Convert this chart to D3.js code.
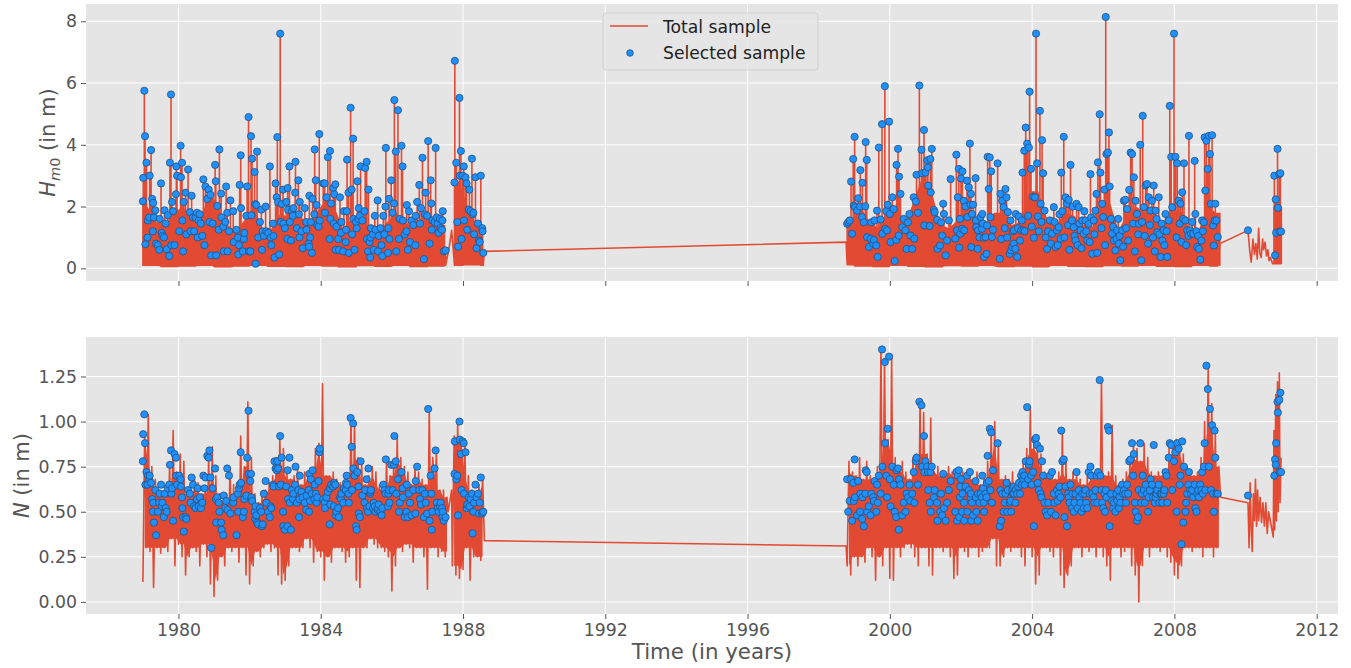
<!DOCTYPE html>
<html>
<head>
<meta charset="utf-8">
<script src="https://cdn.jsdelivr.net/npm/d3@7"></script>
<style>
  body { margin: 0; background: #fff; }
  text { font-family: "DejaVu Sans", sans-serif; }
</style>
</head>
<body>
<svg width="1351" height="668"></svg>
<script>
// selected sample (storm peaks) : time in decimal years, Hm0 and N at that time
var selTime = [
  1979.00,1979.01,1979.04,1979.06,1979.07,1979.10,1979.13,1979.14,1979.18,1979.19,1979.23,1979.26,1979.28,1979.29,1979.31,1979.35,1979.37,1979.42,1979.46,1979.47,1979.51,1979.53,1979.55,1979.59,1979.61,1979.64,1979.67,1979.70,1979.74,1979.76,1979.79,1979.80,1979.82,1979.85,1979.89,1979.93,1979.94,1979.96,
  1980.02,1980.06,1980.07,1980.10,1980.11,1980.13,1980.15,1980.20,1980.22,1980.27,1980.32,1980.34,1980.37,1980.41,1980.44,1980.48,1980.52,1980.54,1980.57,1980.60,1980.63,1980.67,1980.70,1980.73,1980.76,1980.81,1980.85,1980.87,1980.90,1980.92,1980.96,1981.03,1981.05,1981.06,
  1981.09,1981.13,1981.15,1981.20,1981.21,1981.26,1981.27,1981.32,1981.34,1981.37,1981.38,1981.42,1981.46,1981.54,1981.55,1981.63,1981.67,1981.68,1981.70,1981.72,1981.75,1981.76,1981.81,1981.84,1981.85,1981.91,1981.93,1981.97,1981.98,1982.02,
  1982.04,1982.05,1982.07,1982.14,1982.16,1982.17,1982.19,1982.21,1982.24,1982.29,1982.33,1982.35,1982.37,1982.40,1982.45,1982.47,1982.52,1982.57,1982.59,1982.61,1982.66,1982.67,1982.70,1982.73,1982.76,1982.78,1982.80,1982.83,1982.86,1982.88,1982.90,1982.94,1982.95,1982.99,
  1983.03,1983.06,1983.07,1983.08,1983.12,1983.13,1983.16,1983.19,1983.22,1983.23,1983.28,1983.29,1983.33,1983.37,1983.39,1983.40,1983.41,1983.46,1983.49,1983.55,1983.59,1983.60,1983.66,1983.67,1983.68,1983.70,1983.72,1983.75,1983.77,1983.82,1983.83,1983.86,1983.88,1983.90,1983.94,1983.96,1983.97,
  1984.07,1984.11,1984.12,1984.16,1984.20,1984.25,1984.26,1984.27,1984.29,1984.35,1984.37,1984.38,1984.41,1984.42,1984.44,1984.49,1984.51,1984.54,1984.57,1984.58,1984.63,1984.65,1984.70,1984.71,1984.73,1984.74,1984.78,1984.79,1984.84,1984.87,1984.88,1984.91,1984.92,1984.95,1984.99,1985.01,
  1985.03,1985.06,1985.07,1985.10,1985.12,1985.17,1985.23,1985.25,1985.29,1985.30,1985.33,1985.34,1985.37,1985.39,1985.40,1985.41,1985.47,1985.49,1985.52,1985.54,1985.60,1985.61,1985.63,1985.68,1985.71,1985.73,1985.76,1985.79,1985.82,1985.83,1985.89,1985.90,1985.92,1985.93,1985.98,
  1986.02,1986.06,1986.07,1986.11,1986.12,1986.17,1986.20,1986.22,1986.27,1986.30,1986.31,1986.36,1986.41,1986.42,1986.45,1986.48,1986.51,1986.55,1986.60,1986.66,1986.67,1986.71,1986.77,1986.79,1986.82,1986.86,1986.90,1986.93,1986.95,1986.99,
  1987.02,1987.06,1987.09,1987.11,1987.12,1987.14,1987.20,1987.23,1987.26,1987.29,1987.31,1987.35,1987.37,1987.41,1987.42,1987.43,1987.46,1987.51,
  1987.76,1987.77,1987.81,1987.84,1987.86,1987.90,1987.91,1987.94,1987.96,1987.99,1988.02,1988.03,1988.07,1988.10,1988.12,1988.16,1988.18,1988.21,1988.25,1988.27,1988.29,1988.31,1988.35,1988.38,1988.42,1988.45,1988.47,1988.50,1988.54,1988.55,1988.57,
  1998.80,1998.83,1998.87,1998.91,1998.94,1998.97,1998.99,1999.01,1999.02,1999.08,1999.11,1999.16,1999.17,1999.22,1999.23,1999.27,1999.31,1999.32,1999.35,1999.36,1999.41,1999.46,1999.48,1999.53,1999.55,1999.57,1999.62,1999.64,1999.66,1999.69,1999.74,1999.78,1999.79,1999.86,1999.87,1999.90,1999.92,1999.94,1999.98,
  2000.00,2000.02,2000.07,2000.11,2000.14,2000.18,2000.19,2000.23,2000.25,2000.26,2000.30,2000.35,2000.39,2000.44,2000.47,2000.51,2000.55,2000.58,2000.63,2000.67,2000.69,2000.73,2000.75,2000.79,2000.83,2000.89,2000.91,2000.96,2000.97,
  2001.00,2001.05,2001.07,2001.08,2001.12,2001.14,2001.15,2001.18,2001.24,2001.26,2001.33,2001.34,2001.41,2001.44,2001.47,2001.50,2001.52,2001.57,2001.61,2001.66,2001.71,2001.84,2001.87,2001.89,2001.91,2001.94,2001.95,2001.97,2001.98,
  2002.00,2002.03,2002.04,2002.08,2002.09,2002.13,2002.17,2002.18,2002.22,2002.25,2002.27,2002.28,2002.29,2002.31,2002.34,2002.41,2002.42,2002.43,2002.47,2002.48,2002.52,2002.55,2002.59,2002.60,2002.62,2002.64,2002.65,2002.69,2002.72,2002.73,2002.75,2002.78,2002.81,2002.83,2002.85,2002.87,2002.90,
  2003.03,2003.09,2003.11,2003.13,2003.16,2003.20,2003.23,2003.25,2003.28,2003.30,2003.32,2003.37,2003.39,2003.41,2003.44,2003.46,2003.48,2003.49,2003.53,2003.54,2003.58,2003.60,2003.63,2003.66,2003.69,2003.71,2003.73,2003.75,2003.78,2003.79,2003.82,2003.86,2003.89,2003.91,2003.93,2003.97,2003.99,
  2004.03,2004.05,2004.08,2004.11,2004.14,2004.16,2004.19,2004.22,2004.24,2004.26,2004.28,2004.31,2004.35,2004.38,2004.42,2004.45,2004.50,2004.53,2004.56,2004.61,2004.63,2004.66,2004.70,2004.72,2004.75,2004.77,2004.80,2004.82,2004.85,2004.89,2004.91,2004.94,2004.98,
  2005.01,2005.03,2005.05,2005.08,2005.12,2005.14,2005.17,2005.19,2005.22,2005.25,2005.28,2005.31,2005.33,2005.36,2005.39,2005.41,2005.45,2005.47,2005.50,2005.52,2005.55,2005.59,2005.62,2005.64,2005.66,2005.69,2005.73,2005.75,2005.78,2005.81,2005.83,2005.85,2005.90,2005.92,2005.95,2005.97,
  2006.00,2006.03,2006.05,2006.07,2006.09,2006.13,2006.16,2006.18,2006.22,2006.25,2006.28,2006.30,2006.34,2006.37,2006.39,2006.42,2006.44,2006.46,2006.48,2006.53,2006.56,2006.58,2006.62,2006.64,2006.67,2006.70,2006.73,2006.77,2006.81,2006.84,2006.86,2006.89,2006.91,2006.95,2006.98,
  2007.00,2007.04,2007.07,2007.09,2007.11,2007.14,2007.17,2007.19,2007.23,2007.26,2007.28,2007.31,2007.33,2007.37,2007.40,2007.42,2007.45,2007.47,2007.50,2007.52,2007.56,2007.58,2007.61,2007.64,2007.66,2007.70,2007.72,2007.75,2007.78,2007.80,2007.84,2007.87,2007.91,2007.94,2007.99,
  2008.03,2008.06,2008.08,2008.12,2008.15,2008.17,2008.20,2008.22,2008.25,2008.27,2008.31,2008.33,2008.36,2008.39,2008.41,2008.44,2008.47,2008.50,2008.53,2008.57,2008.59,2008.62,2008.64,2008.67,2008.69,2008.73,2008.76,2008.78,2008.80,2008.83,2008.85,2008.87,2008.90,2008.94,2008.97,
  2009.00,2009.03,2009.06,2009.09,2009.11,2009.13,2009.15,2009.18,2009.22,2010.07,2010.81,2010.83,2010.85,2010.86,2010.90,2010.91,2010.95,2010.96,2010.98,2011.00
];
var selHm0 = [
  2.17,2.93,5.75,4.28,0.78,3.42,1.0,1.55,1.65,3.0,3.83,2.25,1.2,2.12,1.65,1.88,0.8,0.75,0.6,1.6,2.75,1.15,1.05,1.0,1.88,1.45,0.62,1.72,0.4,3.42,5.63,0.75,2.15,1.85,0.75,2.4,3.3,3.0,
  1.2,3.97,2.95,3.42,1.55,0.55,2.15,2.45,1.1,3.2,1.82,1.2,2.35,1.65,1.2,1.65,1.8,1.0,1.55,1.75,1.45,1.05,2.88,0.75,2.65,2.25,2.55,1.5,2.38,0.42,1.45,3.35,2.82,0.42,
  2.02,1.25,3.85,2.42,1.65,1.35,0.55,1.5,2.65,1.8,0.55,1.2,2.2,1.85,0.85,1.25,1.0,0.45,0.75,2.7,3.66,1.95,0.55,0.95,1.15,1.7,2.65,4.9,0.55,0.55,
  4.28,1.72,3.55,3.12,2.08,0.15,2.05,3.78,1.0,1.5,1.9,0.6,1.2,1.05,2.0,1.2,1.15,3.3,1.0,0.75,1.45,1.05,0.35,2.75,2.3,4.25,2.15,0.45,7.6,1.5,2.08,2.55,1.45,1.3,
  2.15,0.95,2.6,1.9,3.3,1.5,0.9,1.85,1.7,1.95,2.45,3.45,1.3,2.85,1.75,1.0,2.15,1.2,0.65,1.95,1.5,1.25,0.8,0.7,2.35,1.0,1.5,0.5,2.25,1.75,3.85,2.85,2.05,1.4,1.35,4.35,1.55,
  2.75,2.75,1.8,2.3,3.6,0.95,3.8,1.6,2.1,2.6,1.45,2.4,2.72,0.6,1.35,0.95,0.6,2.3,1.15,1.5,0.55,1.85,0.85,1.25,1.85,3.52,2.45,0.5,5.2,2.55,1.1,4.2,1.6,0.6,1.5,1.3,
  2.82,1.6,1.95,1.7,3.3,1.55,1.85,3.25,3.45,0.95,0.55,2.55,0.85,0.35,1.0,1.3,1.1,0.6,1.7,1.25,2.2,0.55,1.05,1.3,0.75,0.4,1.7,1.1,2.0,3.9,0.5,1.3,2.25,0.95,2.85,
  1.8,2.1,5.45,3.78,0.55,5.12,0.95,1.6,3.97,3.3,1.55,1.1,1.2,2.05,0.6,1.85,0.85,1.55,1.4,0.75,1.7,2.15,2.7,1.45,1.95,3.58,0.3,1.75,2.45,1.7,
  4.12,0.8,2.85,2.1,1.25,1.55,1.5,3.9,1.65,1.45,1.15,1.6,1.3,1.25,1.55,1.85,0.55,0.58,
  2.78,6.72,3.42,1.5,0.7,5.52,3.0,3.8,0.95,3.0,3.3,1.55,2.95,2.75,1.25,1.9,2.55,1.85,3.55,1.75,1.8,1.1,2.95,0.65,1.45,0.9,0.85,3.0,1.3,1.2,0.5,
  1.44,1.49,1.55,2.81,1.12,3.54,2.03,4.26,1.98,1.87,2.27,2.0,3.18,1.66,2.77,1.49,2.01,4.09,3.51,1.01,0.69,0.96,1.49,0.8,0.92,1.55,0.74,1.87,0.37,3.91,1.58,4.67,1.12,5.9,1.28,1.85,1.23,2.06,4.75,
  1.76,0.85,2.3,1.92,0.24,0.92,3.35,3.87,1.06,2.97,2.41,1.33,1.6,1.23,0.63,1.49,1.76,1.06,0.63,2.3,0.96,2.16,3.03,1.8,5.92,3.84,3.08,4.48,1.39,
  3.1,3.5,3.27,2.68,1.37,3.54,2.46,3.87,1.89,1.82,1.57,0.63,0.74,1.49,1.06,2.09,1.76,0.42,0.9,1.55,2.89,0.96,3.68,1.23,2.3,3.22,0.67,1.6,1.12,
  2.91,1.28,3.14,2.19,1.23,2.0,2.84,1.66,2.62,4.04,2.06,2.41,0.69,1.76,2.06,2.92,1.55,1.33,0.63,1.23,1.0,1.66,1.28,1.76,1.45,0.99,0.37,1.01,0.47,1.39,3.61,2.57,3.59,1.66,3.14,1.01,1.25,
  3.4,0.31,2.41,0.95,2.19,1.98,1.3,2.57,2.3,1.0,1.82,0.47,1.55,0.58,0.69,1.2,0.8,1.23,0.63,1.76,0.37,1.3,1.68,0.9,1.23,1.55,3.1,1.23,3.81,1.2,4.56,4.04,1.7,3.91,5.72,3.22,1.35,
  2.32,0.99,2.3,7.6,3.4,1.68,1.2,5.1,2.09,1.5,4.15,3.08,1.87,1.0,0.63,1.2,1.55,0.8,1.12,1.98,1.5,0.69,1.23,0.75,1.33,1.75,0.96,3.1,1.85,4.26,1.0,2.3,2.09,
  1.4,2.22,0.6,3.35,1.55,2.0,1.33,1.05,0.9,2.09,0.75,1.98,1.45,1.23,0.65,1.55,1.12,1.85,1.55,1.2,0.9,1.44,0.85,3.05,1.65,0.47,1.55,1.1,1.87,2.41,0.5,3.43,4.99,3.1,1.3,2.09,
  1.66,2.55,0.75,8.14,3.7,3.75,4.4,2.65,1.6,1.12,1.35,0.9,0.58,0.95,1.23,1.6,0.8,1.05,0.26,1.23,0.7,2.19,2.22,1.3,1.92,0.9,2.54,3.75,3.7,1.45,2.95,0.55,2.19,1.76,1.1,
  1.44,4.0,0.26,1.5,4.94,1.98,1.05,2.68,2.73,0.8,2.3,1.4,1.87,2.19,1.0,2.68,0.55,1.87,1.6,1.17,2.3,1.1,0.37,1.45,0.9,1.23,0.75,1.76,1.2,0.37,1.55,5.26,3.61,1.98,7.6,
  3.61,1.0,3.4,2.19,1.45,2.09,0.85,2.46,1.6,3.4,1.55,0.75,1.23,1.05,4.29,1.23,1.12,1.5,1.12,3.48,1.76,1.2,0.69,1.05,0.63,0.28,0.9,1.55,1.2,1.49,4.24,2.52,4.13,3.22,4.29,
  3.7,2.09,4.31,1.39,0.74,1.55,2.09,1.55,1.01,1.23,3.0,0.42,2.23,1.15,3.87,1.96,3.05,1.19,3.08,1.19
];
var selN = [
  0.78,0.93,1.04,0.88,0.65,0.72,0.65,0.70,0.68,0.70,0.66,0.57,0.5,0.55,0.44,0.62,0.37,0.5,0.55,0.6,0.65,0.53,0.55,0.47,0.6,0.52,0.5,0.63,0.65,0.76,0.84,0.6,0.63,0.45,0.82,0.8,0.7,0.65,
  0.7,0.68,0.64,0.58,0.52,0.47,0.39,0.47,0.46,0.62,0.6,0.55,0.69,0.65,0.53,0.52,0.57,0.63,0.53,0.58,0.52,0.55,0.7,0.63,0.69,0.81,0.8,0.84,0.69,0.3,0.63,0.74,0.57,0.44,
  0.58,0.55,0.5,0.44,0.4,0.37,0.59,0.52,0.56,0.74,0.51,0.7,0.49,0.55,0.58,0.37,0.6,0.5,0.63,0.65,0.83,0.66,0.47,0.5,0.57,0.59,0.8,1.06,0.71,0.67,
  0.71,0.58,0.56,0.5,0.46,0.53,0.48,0.44,0.43,0.52,0.5,0.42,0.43,0.6,0.67,0.55,0.5,0.47,0.53,0.52,0.65,0.64,0.78,0.74,0.73,0.78,0.74,0.64,0.92,0.65,0.8,0.5,0.42,0.4,
  0.64,0.42,0.73,0.57,0.8,0.55,0.4,0.62,0.57,0.6,0.65,0.75,0.55,0.62,0.47,0.57,0.7,0.61,0.58,0.55,0.51,0.59,0.62,0.5,0.71,0.56,0.68,0.6,0.73,0.57,0.65,0.6,0.55,0.58,0.67,0.83,0.85,
  0.57,0.55,0.52,0.58,0.61,0.43,0.63,0.54,0.65,0.64,0.53,0.66,0.65,0.48,0.5,0.52,0.47,0.58,0.57,0.6,0.55,0.63,0.62,0.66,0.7,0.65,0.6,0.55,1.02,0.86,0.62,0.99,0.74,0.7,0.42,0.4,
  0.72,0.64,0.49,0.47,0.78,0.59,0.55,0.62,0.68,0.52,0.5,0.74,0.53,0.6,0.61,0.62,0.52,0.55,0.53,0.5,0.51,0.52,0.54,0.5,0.48,0.52,0.65,0.62,0.6,0.79,0.53,0.6,0.62,0.55,0.76,
  0.62,0.76,0.92,0.78,0.6,0.68,0.5,0.55,0.72,0.63,0.58,0.47,0.5,0.65,0.47,0.6,0.55,0.48,0.62,0.49,0.67,0.75,0.62,0.57,0.54,0.62,0.47,0.6,0.55,0.49,
  1.07,0.45,0.7,0.6,0.4,0.5,0.74,0.84,0.55,0.52,0.5,0.53,0.55,0.52,0.47,0.5,0.45,0.47,
  0.71,0.89,0.68,0.7,0.48,1.0,0.9,0.82,0.62,0.89,0.88,0.6,0.83,0.52,0.54,0.58,0.53,0.57,0.6,0.38,0.5,0.55,0.65,0.58,0.6,0.49,0.55,0.69,0.49,0.5,0.5,
  0.68,0.5,0.56,0.68,0.45,0.66,0.56,0.79,0.58,0.48,0.67,0.5,0.6,0.46,0.58,0.42,0.6,0.73,0.72,0.5,0.53,0.48,0.6,0.58,0.56,0.67,0.5,0.65,0.55,0.7,0.6,1.4,0.75,1.33,0.88,0.7,0.58,0.96,1.36,
  0.68,0.53,0.75,0.65,0.5,0.47,0.73,0.74,0.4,0.68,0.65,0.48,0.55,0.5,0.6,0.58,0.65,0.56,0.6,0.72,0.55,0.78,0.8,0.65,1.11,1.09,0.75,0.92,0.72,
  0.78,0.75,0.72,0.62,0.55,0.72,0.5,0.75,0.58,0.62,0.55,0.45,0.5,0.6,0.48,0.71,0.52,0.45,0.55,0.62,0.67,0.5,0.72,0.45,0.7,0.73,0.47,0.58,0.64,
  0.68,0.5,0.6,0.55,0.45,0.64,0.7,0.5,0.62,0.72,0.58,0.6,0.45,0.55,0.48,0.67,0.58,0.5,0.45,0.6,0.55,0.6,0.58,0.7,0.63,0.55,0.5,0.6,0.58,0.66,0.81,0.67,0.96,0.62,0.94,0.55,0.73,
  0.88,0.42,0.62,0.45,0.6,0.5,0.55,0.6,0.66,0.5,0.62,0.55,0.56,0.5,0.62,0.6,0.64,0.6,0.55,0.62,0.6,0.64,0.66,0.6,0.7,0.65,0.72,0.68,0.7,0.65,0.78,1.08,0.68,0.76,0.78,0.7,0.65,
  0.72,0.42,0.9,0.91,0.87,0.66,0.62,0.85,0.6,0.58,0.78,0.7,0.55,0.5,0.48,0.55,0.7,0.5,0.72,0.6,0.55,0.48,0.62,0.56,0.6,0.64,0.58,0.95,0.78,0.79,0.47,0.64,0.42,
  0.6,0.58,0.55,0.65,0.52,0.6,0.5,0.55,0.6,0.72,0.52,0.62,0.58,0.55,0.5,0.6,0.52,0.6,0.62,0.55,0.52,0.72,0.6,0.75,0.7,0.6,0.58,0.55,0.62,0.7,0.55,0.72,1.23,0.7,0.62,0.55,
  0.52,0.6,0.5,0.62,0.58,0.97,0.95,0.42,0.6,0.56,0.52,0.55,0.5,0.6,0.56,0.62,0.52,0.58,0.55,0.65,0.6,0.62,0.6,0.55,0.65,0.6,0.78,0.79,0.88,0.7,0.82,0.55,0.5,0.45,0.47,
  0.62,0.88,0.55,0.6,0.7,0.62,0.55,0.65,0.6,0.5,0.58,0.62,0.68,0.65,0.58,0.87,0.55,0.58,0.6,0.62,0.65,0.55,0.6,0.6,0.55,0.6,0.62,0.72,0.7,0.55,0.8,0.88,0.87,0.62,0.78,
  0.83,0.5,0.88,0.85,0.65,0.7,0.32,0.89,0.44,0.75,0.5,0.55,0.6,0.65,0.72,0.62,0.6,0.62,0.58,0.65,0.52,0.5,0.6,0.62,0.58,0.65,0.62,0.72,0.6,0.75,0.88,0.62,1.31,1.18,0.75,
  1.07,0.62,0.98,0.6,0.5,0.95,0.8,0.6,0.6,0.59,0.7,0.79,0.76,0.88,1.11,1.05,1.12,0.72,1.16,0.72
];

// total sample, Hm0: lowest level of the record per half year from 1979.0 (null = no record)
var hmFloor = [
  0.1,0.06,0.08,0.1,0.05,0.08,0.1,0.07,0.06,0.1,0.08,0.05,0.09,0.07,0.1,0.06,0.08,0.1,0.12,0.1,
  null,null,null,null,null,null,null,null,null,null,null,null,null,null,null,null,null,null,null,
  0.12,0.08,0.06,0.1,0.07,0.05,0.09,0.08,0.1,0.06,0.08,0.05,0.1,0.07,0.06,0.09,0.08,0.1,0.07,0.06,0.1,0.08,
  null,null,0.15,0.15
];
// total sample, Hm0: top of the solid body of the record per quarter year, per stretch
var hmBodyStart = [1979.0, 1987.76, 1998.8, 2010.78];
var hmBody = [
  [2.0,1.5,1.4,1.8, 2.0,1.5,1.6,2.5, 2.0,1.4,1.2,1.6, 2.0,1.2,1.3,1.8, 1.6,1.8,1.4,1.8,
   2.2,2.0,1.3,1.6, 1.8,1.3,1.2,1.5, 1.8,1.5,1.3,1.7, 1.6,1.4],
  [2.8,2.0,1.4],
  [1.5, 2.0,1.5,1.3,1.8, 2.0,1.4,2.2,3.0, 2.5,1.4,1.3,1.6, 2.0,1.6,1.3,1.8, 1.8,1.4,1.5,2.5,
   2.5,1.6,1.4,1.8, 1.7,1.4,1.3,2.0, 2.2,1.2,1.8,2.0, 1.8,1.7,1.4,1.8, 1.9,1.3,1.2,2.0, 1.8],
  [2.0]
];
// total sample, Hm0: other points of the record (gaps and the short 2010 stretch)
var hmRawTime = [1987.6,1987.68,1988.6,1998.77,2009.28,
  2010.12,2010.16,2010.21,2010.25,2010.29,2010.33,2010.37,2010.4,2010.44,2010.48,2010.51,2010.55,2010.59,2010.63,2010.66,2010.7,2010.76];
var hmRawVal = [0.6,1.23,0.55,0.85,0.8,
  0.55,0.2,0.95,0.45,0.8,0.3,1.3,0.5,0.35,0.95,0.6,0.85,0.4,0.6,0.25,0.35,0.15];

// total sample, N: high / low of each 0.1-year slice, per continuous stretch
var envStart = [1979.0, 1987.7, 1998.8];
var nHigh = [
  [0.93,1.04,0.75,0.68,0.62,0.6,0.62,0.76,0.95,0.72, 0.82,0.78,0.6,0.62,0.68,0.66,0.6,0.62,0.82,0.86,
   0.7,0.6,0.55,0.6,0.74,0.65,0.6,0.92,0.75,1.11, 0.8,0.6,0.55,0.6,0.62,0.66,0.7,0.8,0.92,0.85,
   0.72,0.68,0.7,0.75,0.65,0.72,0.7,0.72,0.85,0.88, 1.21,0.7,0.7,0.72,0.68,0.66,0.65,0.7,1.02,1.0,
   0.8,0.78,0.65,0.7,0.75,0.72,0.65,0.62,0.8,0.7, 0.78,0.92,0.8,0.75,0.72,0.65,0.75,0.72,0.68,0.65,
   1.07,0.8,0.85,0.62,0.62,0.58],
  [0.92,1.0,0.9,0.9,0.7,0.62,0.6,0.65,0.7],
  [0.78,0.72, 0.7,0.8,0.68,0.78,0.7,0.68,0.75,1.41,1.35,0.9, 1.37,0.8,0.72,0.78,0.72,0.68,0.8,0.82,1.12,1.05,
   0.82,1.02,0.72,0.75,0.7,0.72,0.75,0.72,0.7,0.7, 0.72,0.68,0.7,0.68,0.72,0.65,0.68,0.78,0.95,1.0,
   0.88,0.68,0.7,0.68,0.72,0.65,0.72,0.78,0.85,1.08, 0.9,0.85,0.82,0.72,0.7,0.7,0.68,0.72,0.95,0.8,
   0.68,0.72,0.7,0.68,0.65,0.7,0.68,0.7,0.68,1.23, 0.7,0.72,0.98,0.7,0.65,0.68,0.72,0.8,0.88,0.85,
   0.78,0.88,0.8,0.72,0.7,0.72,0.7,0.72,0.85,0.88, 0.9,0.88,0.82,0.75,0.72,0.7,0.72,0.8,1.0,1.31,
   1.1,0.95,0.75]
];
var nLow = [
  [0.11,0.3,0.28,0.08,0.3,0.27,0.3,0.28,0.35,0.2, 0.32,0.25,0.15,0.25,0.3,0.28,0.2,0.32,0.25,0.1,
   0.03,0.12,0.25,0.2,0.3,0.28,0.3,0.22,0.3,0.15, 0.1,0.2,0.28,0.25,0.3,0.32,0.28,0.3,0.15,0.1,
   0.12,0.2,0.3,0.3,0.28,0.3,0.35,0.3,0.22,0.28, 0.25,0.12,0.25,0.22,0.3,0.3,0.28,0.22,0.25,0.3,
   0.12,0.08,0.3,0.3,0.35,0.32,0.3,0.3,0.28,0.25, 0.06,0.2,0.3,0.28,0.32,0.3,0.22,0.3,0.3,0.25,
   0.07,0.3,0.3,0.25,0.28,0.25],
  [0.2,0.15,0.13,0.18,0.3,0.12,0.25,0.25,0.23],
  [0.2,0.15, 0.25,0.2,0.25,0.22,0.3,0.25,0.12,0.25,0.2,0.3, 0.13,0.12,0.3,0.25,0.3,0.32,0.3,0.25,0.2,0.3,
   0.3,0.2,0.15,0.3,0.3,0.28,0.3,0.25,0.13,0.15, 0.3,0.28,0.25,0.3,0.3,0.25,0.28,0.3,0.3,0.35,
   0.2,0.2,0.25,0.3,0.28,0.3,0.3,0.25,0.2,0.3, 0.25,0.1,0.15,0.3,0.3,0.28,0.25,0.3,0.15,0.08,
   0.15,0.2,0.3,0.3,0.25,0.3,0.28,0.3,0.25,0.3, 0.25,0.2,0.12,0.3,0.3,0.25,0.28,0.3,0.2,0.15,
   0.0,0.2,0.3,0.25,0.3,0.3,0.28,0.3,0.25,0.22, 0.15,0.13,0.2,0.3,0.3,0.28,0.3,0.3,0.25,0.3,
   0.3,0.25,0.3]
];
// total sample, N: other points of the record
var nRawTime = [1987.58,1987.68,1988.6,1998.77,2009.3,2010.07,
  2010.1,2010.13,2010.16,2010.19,2010.22,2010.25,2010.28,2010.31,2010.34,2010.37,2010.41,2010.45,2010.49,2010.53,2010.57,2010.61,2010.65,
  2010.78,2010.8,2010.82,2010.85,2010.87,2010.9,2010.92,2010.95,2010.97,2011.0];
var nRawVal = [0.5,0.62,0.34,0.31,0.58,0.55,
  0.3,0.66,0.4,0.28,0.6,0.45,0.68,0.42,0.62,0.45,0.58,0.44,0.55,0.42,0.55,0.38,0.5,
  0.36,0.95,0.4,1.15,0.45,1.22,0.5,1.27,0.55,0.8];

var xTicks = [1980, 1984, 1988, 1992, 1996, 2000, 2004, 2008, 2012];
var hmTicks = [0, 2, 4, 6, 8];
var nTicks = [0, 0.25, 0.5, 0.75, 1.0, 1.25];

var svg = d3.select('svg');
var red = '#E24A33';

var x = d3.scaleLinear().domain([1977.4, 2012.6]).range([86, 1338]);
var yHm = d3.scaleLinear().domain([-0.41, 8.56]).range([281, 4]);
var yN = d3.scaleLinear().domain([-0.067, 1.469]).range([614, 337]);

var floorAt = function(t) {
  var f = hmFloor[Math.floor((t - 1979) / 0.5 + 1e-9)];
  return f == null ? null : f;
};

// order of the selected events in time
var order = d3.range(selTime.length).sort(function(a, b) { return selTime[a] - selTime[b]; });

// Hm0 record: every storm peak rises from the base level of the record
var hmPts = [];
order.forEach(function(i) {
  var f = floorAt(selTime[i]);
  if (f == null) hmPts.push([selTime[i], selHm0[i]]);
  else hmPts.push([selTime[i], f], [selTime[i], selHm0[i]], [selTime[i], f]);
});
hmRawTime.forEach(function(t, i) { hmPts.push([t, hmRawVal[i]]); });
hmPts.sort(function(a, b) { return a[0] - b[0]; });

// Hm0 solid body: [time, bottom, top]
var hmBand = hmBodyStart.map(function(s, k) {
  var v = hmBody[k], n = v.length, b = [];
  b.push([s, floorAt(s) || 0.1, v[0]]);
  v.forEach(function(d, j) {
    var t = s + (j + 0.5) * 0.25;
    b.push([t, floorAt(t) || 0.1, d]);
  });
  b.push([s + n * 0.25, floorAt(s + n * 0.25 - 0.01) || 0.1, v[n - 1]]);
  return b;
});

// N record: swing between low and high of each slice
var nPts = [];
envStart.forEach(function(s, k) {
  nLow[k].forEach(function(lo, j) {
    var t = s + j * 0.1;
    nPts.push([t, lo], [t + 0.05, nHigh[k][j]]);
  });
});
nRawTime.forEach(function(t, i) { nPts.push([t, nRawVal[i]]); });
nPts.sort(function(a, b) { return a[0] - b[0]; });

// N solid body: between the neighbouring lows and highs of each slice
var nBand = envStart.map(function(s, k) {
  var lo = nLow[k], hi = nHigh[k], n = lo.length;
  return lo.map(function(d, j) {
    var a = Math.max(0, j - 1), b = Math.min(n, j + 2);
    return [s + j * 0.1 + 0.05, d3.max(lo.slice(a, b)), d3.min(hi.slice(a, b))];
  });
});

// draws one panel
var panel = function(id, y, ticks, fmt, pts, bands, vals, showX) {
  var top = y.range()[1], bottom = y.range()[0];
  var g = svg.append('g');

  g.append('rect')
    .attr('x', 86).attr('y', top)
    .attr('width', 1338 - 86).attr('height', bottom - top)
    .style('fill', '#E5E5E5');

  g.selectAll('.gx')
    .data(xTicks)
    .enter()
    .append('line')
    .attr('x1', function(d) { return x(d); })
    .attr('x2', function(d) { return x(d); })
    .attr('y1', top).attr('y2', bottom)
    .style('stroke', '#fff').style('stroke-width', 1);

  g.selectAll('.gy')
    .data(ticks)
    .enter()
    .append('line')
    .attr('x1', 86).attr('x2', 1338)
    .attr('y1', function(d) { return y(d); })
    .attr('y2', function(d) { return y(d); })
    .style('stroke', '#fff').style('stroke-width', 1);

  svg.append('clipPath').attr('id', id)
    .append('rect')
    .attr('x', 86).attr('y', top)
    .attr('width', 1338 - 86).attr('height', bottom - top);

  var area = d3.area()
    .x(function(d) { return x(d[0]); })
    .y0(function(d) { return y(d[1]); })
    .y1(function(d) { return y(d[2]); });

  g.selectAll('.band')
    .data(bands)
    .enter()
    .append('path')
    .attr('d', area)
    .attr('clip-path', 'url(#' + id + ')')
    .style('fill', red);

  var line = d3.line()
    .x(function(d) { return x(d[0]); })
    .y(function(d) { return y(d[1]); });

  g.append('path')
    .datum(pts)
    .attr('d', line)
    .attr('clip-path', 'url(#' + id + ')')
    .style('fill', 'none')
    .style('stroke', red)
    .style('stroke-width', 1.6)
    .style('stroke-linejoin', 'round');

  g.selectAll('.dot')
    .data(order)
    .enter()
    .append('circle')
    .attr('cx', function(i) { return x(selTime[i]); })
    .attr('cy', function(i) { return y(vals[i]); })
    .attr('r', 3.6)
    .style('fill', '#1E90FF')
    .style('stroke', '#24507a')
    .style('stroke-width', 0.8);

  var ax = d3.axisLeft(y).tickValues(ticks).tickFormat(fmt).tickSize(5).tickPadding(4);
  var ga = g.append('g').attr('transform', 'translate(86,0)').call(ax);
  var bx = d3.axisBottom(x).tickValues(xTicks).tickFormat(showX ? d3.format('d') : '').tickSize(5).tickPadding(5);
  var gb = g.append('g').attr('transform', 'translate(0,' + bottom + ')').call(bx);

  [ga, gb].forEach(function(a) {
    a.select('.domain').remove();
    a.selectAll('line').style('stroke', '#555');
    a.selectAll('text').style('fill', '#555').style('font-size', '17.3px')
      .style('font-family', '"DejaVu Sans", sans-serif');
  });
};

panel('clipHm', yHm, hmTicks, d3.format('d'), hmPts, hmBand, selHm0, false);
panel('clipN', yN, nTicks, d3.format('.2f'), nPts, nBand, selN, true);

// axis labels
var hl = svg.append('text')
  .attr('transform', 'translate(55,142.5) rotate(-90)')
  .attr('text-anchor', 'middle')
  .style('font-size', '21px')
  .style('fill', '#555');
hl.append('tspan').style('font-style', 'italic').text('H');
hl.append('tspan').attr('dy', 4.5).style('font-style', 'italic').style('font-size', '14.5px').text('m');
hl.append('tspan').style('font-size', '14.5px').text('0');
hl.append('tspan').attr('dy', -4.5).text(' (in m)');

var nl = svg.append('text')
  .attr('transform', 'translate(28.5,475.5) rotate(-90)')
  .attr('text-anchor', 'middle')
  .style('font-size', '21px')
  .style('fill', '#555');
nl.append('tspan').style('font-style', 'italic').text('N');
nl.append('tspan').text(' (in m)');

svg.append('text')
  .attr('x', 712).attr('y', 658.5)
  .attr('text-anchor', 'middle')
  .style('font-size', '21.3px')
  .style('fill', '#555')
  .text('Time (in years)');

// legend
var lg = svg.append('g');
lg.append('rect')
  .attr('x', 603).attr('y', 13).attr('width', 215).attr('height', 57).attr('rx', 3)
  .style('fill', '#E5E5E5').style('fill-opacity', 0.8)
  .style('stroke', '#d0d0d0').style('stroke-width', 1);
lg.append('line')
  .attr('x1', 610).attr('x2', 648).attr('y1', 26).attr('y2', 26)
  .style('stroke', red).style('stroke-width', 1.6);
lg.append('circle')
  .attr('cx', 630).attr('cy', 53).attr('r', 3.3)
  .style('fill', '#1E90FF').style('stroke', '#24507a').style('stroke-width', 0.8);
lg.append('text').attr('x', 663).attr('y', 32.5).style('font-size', '17.2px').style('fill', '#222').text('Total sample');
lg.append('text').attr('x', 663).attr('y', 58.5).style('font-size', '17.2px').style('fill', '#222').text('Selected sample');
</script>
</body>
</html>
